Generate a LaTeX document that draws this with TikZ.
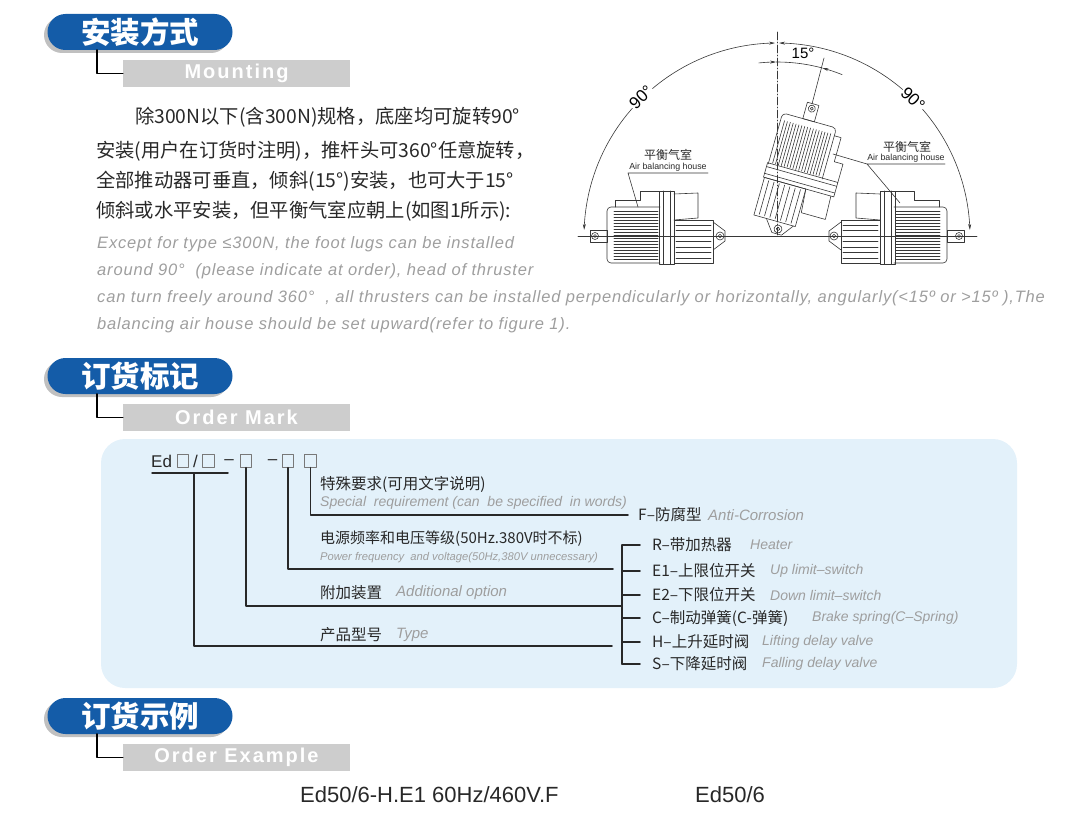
\documentclass[tikz,border=0pt]{standalone}
\usepackage{fontspec}
\usetikzlibrary{arrows.meta}
\setmainfont{Liberation Sans}
\newfontfamily\cjk{Noto Sans CJK SC}
\newfontfamily\hdfont{Liberation Sans}[LetterSpace=10]
\newfontfamily\enfont{Liberation Sans}[LetterSpace=5]
\newcommand\fs[1]{\fontsize{#1}{#1}\selectfont}
\definecolor{hdblue}{RGB}{20,92,168}
\definecolor{shadowgray}{RGB}{192,192,192}
\definecolor{boxgray}{RGB}{205,205,205}
\definecolor{panel}{RGB}{227,241,250}
\definecolor{ink}{RGB}{40,40,40}
\definecolor{soft}{RGB}{158,158,158}
\definecolor{boxline}{RGB}{120,120,120}
\definecolor{figink}{RGB}{55,55,55}
\tikzset{
  hdpill/.style={fill=hdblue,rounded corners=18pt,minimum width=185pt,minimum height=36pt,inner sep=0pt,text=white,font=\cjk\bfseries\fs{29.5}},
  hdbox/.style={fill=boxgray,minimum width=227pt,minimum height=27pt,inner sep=0pt,text=white,font=\hdfont\bfseries\fs{20}},
  cnpara/.style={anchor=west,inner sep=0pt,text=ink,font=\cjk\fs{19.3}},
  enpara/.style={anchor=west,inner sep=0pt,text=soft,font=\enfont\itshape\fs{16.5}},
  cnlab/.style={anchor=west,inner sep=0pt,text=ink,font=\cjk\fs{15.5}},
  enlab/.style={anchor=west,inner sep=0pt,text=soft,font=\itshape\fs{14}},
  codebox/.style={draw=boxline,line width=0.9pt,minimum width=11.5pt,minimum height=12.5pt,inner sep=0pt},
  markline/.style={draw=ink,line width=1.5pt},
  figline/.style={draw=figink,line width=0.6pt},
  axisline/.style={figline,dash pattern=on 8pt off 2pt on 1pt off 2pt},
  figlab/.style={inner sep=0pt,text=ink,font=\fs{8.8}},
}
% one thruster, cylinder eye at the origin, motor towards -x
\newcommand\thruster{%
  \draw[figline] (-130,-6) rectangle (-113,6);
  \draw[figline] (-125,0) circle (3.5) (-125,0) circle (1.5);
  \draw[figline,rounded corners=4pt] (-60,-29) -- (-113,-29) -- (-113,27) -- (-60,27);
  \foreach \fy in {-25,-22,...,23} \draw[figline] (-106,\fy) -- (-62,\fy);
  \draw[figline] (-105,-29) -- (-105,-36) -- (-80,-36) -- (-80,-45) -- (-61,-45);
  \draw[figline] (-61,-45) rectangle (-46,28);
  \draw[figline] (-57,-45) -- (-57,28) (-50,-45) -- (-50,28);
  \draw[figline] (-46,-42) -- (-22,-43) -- (-22,-18) -- (-46,-16);
  \draw[figline] (-46,-16) rectangle (-7,27);
  \foreach \fy in {-11,-5.5,...,22} \draw[figline] (-44,\fy) -- (-9,\fy);
  \draw[figline] (-7,-14) -- (5,-5) -- (5,5) -- (-7,14);
  \draw[figline] (0,0) circle (4) (0,0) circle (1.8);
}
\begin{document}
\begin{tikzpicture}[x=1pt,y=-1pt,line join=round,line cap=round,>=stealth]
\useasboundingbox (0,0) rectangle (1076,824);
% section headers
\foreach \yy/\hdcn/\hden in {14/安装方式/Mounting,358/订货标记/Order Mark,698/订货示例/Order Example}{
  \fill[shadowgray,rounded corners=18pt] (44,\yy+3) rectangle (229,\yy+39);
  \node[hdpill] (hd\yy) at (140,\yy+18) {\hdcn};
  \node[hdbox] (sb\yy) at (236.5,\yy+59.5) {\hden};
  \coordinate (lt\yy) at (97,\yy+36);
  \draw[line width=1.6pt] (lt\yy) |- (sb\yy.west);
}
% mounting text
\node[cnpara] (cn1) at (135,117) {除300N以下(含300N)规格，底座均可旋转90°};
\node[cnpara] (cn2) at (96,151) {安装(用户在订货时注明)，推杆头可360°任意旋转，};
\node[cnpara] (cn3) at (96,181) {全部推动器可垂直，倾斜(15°)安装，也可大于15°};
\node[cnpara] (cn4) at (96,211) {倾斜或水平安装，但平衡气室应朝上(如图1所示):};
\node[enpara] (en1) at (97,244) {Except for type ≤300N, the foot lugs can be installed};
\node[enpara] (en2) at (97,271) {around 90°\ \ (please indicate at order), head of thruster};
\node[enpara] (en3) at (97,298) {can turn freely around 360°\ \ , all thrusters can be installed perpendicularly or horizontally, angularly(<15º or >15º ),The};
\node[enpara] (en4) at (97,325) {balancing air house should be set upward(refer to figure 1).};
% figure 1
\draw[figline] (578,236) -- (977,236);
\draw[axisline] (777,32) -- (777,236);
\draw[figline,{Stealth[length=6pt,width=3pt]}-{Stealth[length=6pt,width=3pt]},samples=60,domain=90.6:178.2] plot ({777+193*cos(\x)},{236-193*sin(\x)});
\draw[figline,{Stealth[length=6pt,width=3pt]}-{Stealth[length=6pt,width=3pt]},samples=60,domain=1.8:89.4] plot ({777+193*cos(\x)},{236-193*sin(\x)});
\draw[figline,-{Stealth[length=6pt,width=3pt]},samples=10,domain=96:90.3] plot ({777+174*cos(\x)},{236-174*sin(\x)});
\draw[figline,-{Stealth[length=6pt,width=3pt]},samples=10,domain=68:74.9] plot ({777+174*cos(\x)},{236-174*sin(\x)});
\draw[figline,samples=10,domain=74.9:90.3] plot ({777+174*cos(\x)},{236-174*sin(\x)});
\draw[figline] (812,104) -- (824,58);
\node[fill=white,inner sep=1pt,font=\fs{17},rotate=44] (ang1) at (641,97) {90°};
\node[fill=white,inner sep=1pt,font=\fs{17},rotate=-44] (ang2) at (913,99) {90°};
\node[inner sep=0pt,font=\fs{15}] (ang3) at (803,53) {15°};
\begin{scope}[shift={(720,236)}]
  \thruster
\end{scope}
\begin{scope}[shift={(834,236)},xscale=-1]
  \thruster
\end{scope}
\begin{scope}[shift={(778,229)},rotate=-105.7]
  \thruster
\end{scope}
\node[inner sep=0pt,text=ink,font=\cjk\fs{12}] (ah1) at (668,155) {平衡气室};
\node[figlab] (ah1e) at (668,167) {Air balancing house};
\coordinate (ah1a) at (628,173);
\coordinate (ah1b) at (708,173);
\coordinate (ah1c) at (638,207);
\draw[figline] (ah1b) -- (ah1a) -- (ah1c);
\node[inner sep=0pt,text=ink,font=\cjk\fs{12}] (ah2) at (907,147) {平衡气室};
\node[figlab] (ah2e) at (906,158) {Air balancing house};
\coordinate (ah2a) at (867,164);
\coordinate (ah2b) at (945,164);
\coordinate (ah2c) at (900,203);
\coordinate (ah2d) at (833,154);
\draw[figline] (ah2b) -- (ah2a) -- (ah2c);
\draw[figline] (ah2a) -- (ah2d);
% order mark panel
\fill[panel,rounded corners=24pt] (101,439) rectangle (1017,688);
\node[anchor=west,inner sep=0pt,text=ink,font=\fs{17}] (ed) at (151,461) {Ed};
\node[codebox] (b1) at (183,461) {};
\node[inner sep=0pt,text=ink,font=\fs{17}] (sl) at (195.5,461) {/};
\node[codebox] (b2) at (208.5,461) {};
\node[inner sep=0pt,text=ink,font=\fs{17}] (d1) at (229,462) {–};
\node[codebox] (b3) at (246,461) {};
\node[inner sep=0pt,text=ink,font=\fs{17}] (d2) at (272.5,462) {–};
\node[codebox] (b4) at (288,461) {};
\node[codebox] (b5) at (310.5,461) {};
\coordinate (ul1) at (152,473);
\coordinate (ul2) at (228,473);
\coordinate (ty) at (194,473);
\coordinate (tyend) at (612,646);
\coordinate (adend) at (622,606);
\coordinate (pfend) at (613,569);
\coordinate (spend) at (628,515);
\draw[markline] (ul1) -- (ul2);
\draw[markline] (ty) |- (tyend);
\draw[markline] (b3.south) |- (adend);
\draw[markline] (b4.south) |- (pfend);
\draw[markline] (b5.south) |- (spend);
\node[cnlab] (spcn) at (320,484) {特殊要求(可用文字说明)};
\node[enlab] (spen) at (320,503) {Special\ \ requirement (can\ \ be specified\ \ in words)};
\node[cnlab,font=\cjk\fs{15}] (pfcn) at (320,539) {电源频率和电压等级(50Hz.380V时不标)};
\node[enlab,font=\itshape\fs{11.2}] (pfen) at (320,558) {Power frequency\ \ and voltage(50Hz,380V unnecessary)};
\node[cnlab] (adcn) at (320,593) {附加装置};
\node[enlab,font=\itshape\fs{15}] (aden) at (396,593) {Additional option};
\node[cnlab] (tycn) at (320,635) {产品型号};
\node[enlab,font=\itshape\fs{15}] (tyen) at (396,635) {Type};
\node[cnlab] (fcn) at (638,515) {F–防腐型};
\node[enlab,font=\itshape\fs{15}] (fen) at (708,515) {Anti-Corrosion};
% options
\foreach \k/\yy/\optcn/\opten/\ex in {1/545/R–带加热器/Heater/750,2/571/E1–上限位开关/Up limit–switch/770,3/595/E2–下限位开关/Down limit–switch/770,4/618/C–制动弹簧(C-弹簧)/Brake spring(C–Spring)/812,5/642/H–上升延时阀/Lifting delay valve/762,6/664/S–下降延时阀/Falling delay valve/762}{
  \node[cnlab] (op\k) at (652,\yy) {\optcn};
  \node[enlab] (ope\k) at (\ex,\yy) {\opten};
  \draw[markline] (622,\yy) -- ([xshift=-12pt]op\k.west);
}
\draw[markline] (622,545) -- (622,664);
% order example
\node[anchor=west,inner sep=0pt,text=ink,font=\fs{22}] (ex1) at (300,795) {Ed50/6-H.E1 60Hz/460V.F};
\node[anchor=west,inner sep=0pt,text=ink,font=\fs{22}] (ex2) at (695,795) {Ed50/6};
\end{tikzpicture}
\end{document}
